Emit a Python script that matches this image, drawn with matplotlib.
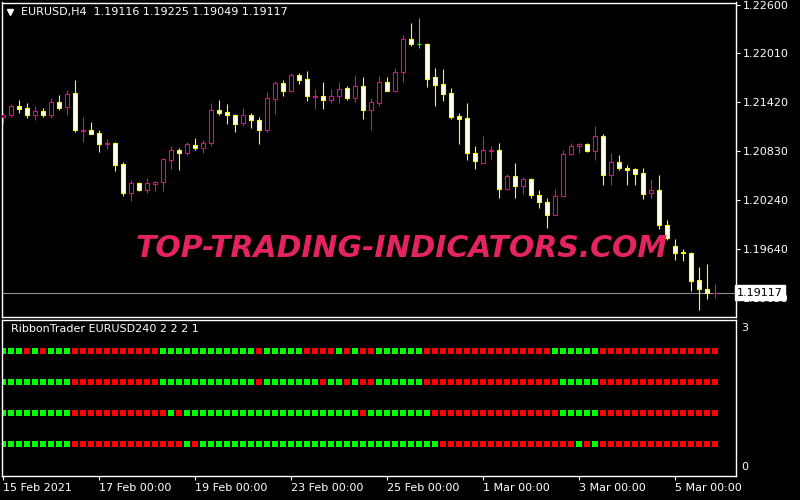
import matplotlib
matplotlib.use('Agg')
import matplotlib.pyplot as plt
import numpy as np

# EURUSD H4 candles (oldest -> newest)
opens = [1.2124, 1.2126, 1.2138, 1.2135, 1.2126, 1.2131, 1.2127, 1.2142, 1.2136, 1.2153,
         1.21075, 1.2108, 1.2105, 1.2092, 1.2093, 1.2067, 1.2032, 1.2044, 1.2036, 1.2043,
         1.2045, 1.2072, 1.2084, 1.2081, 1.2090, 1.2087, 1.2093, 1.2133, 1.2130, 1.2127,
         1.2117, 1.2126, 1.2120, 1.2108, 1.2146, 1.2165, 1.2155, 1.2175, 1.2170, 1.2148,
         1.2149, 1.2145, 1.2149, 1.2159, 1.2147, 1.2162, 1.2132, 1.2141, 1.2166, 1.2156,
         1.2178, 1.2219, 1.2212, 1.2213, 1.2173, 1.2164, 1.2153, 1.2125, 1.2123, 1.2081,
         1.2069, 1.2083, 1.2084, 1.2037, 1.2053, 1.2040, 1.2049, 1.2030, 1.2021, 1.2005,
         1.2028, 1.2079, 1.2089, 1.2091, 1.2083, 1.2101, 1.2054, 1.2070, 1.2062, 1.2061,
         1.2056, 1.2032, 1.2036, 1.1993, 1.1968, 1.1961, 1.1960, 1.1927, 1.1916, 1.19116]
highs = [1.2129, 1.2140, 1.2145, 1.2141, 1.2137, 1.2135, 1.2147, 1.2151, 1.2157, 1.2169,
         1.2124, 1.2118, 1.2108, 1.2097, 1.2094, 1.2070, 1.2048, 1.2045, 1.2050, 1.2047,
         1.2074, 1.2089, 1.2086, 1.2094, 1.2099, 1.2096, 1.2141, 1.2145, 1.2140, 1.2128,
         1.2135, 1.2129, 1.2124, 1.2154, 1.2168, 1.2169, 1.2177, 1.2177, 1.2180, 1.2158,
         1.2166, 1.2158, 1.2166, 1.2162, 1.2175, 1.2173, 1.2147, 1.2174, 1.2173, 1.2183,
         1.2223, 1.2238, 1.2244, 1.2214, 1.2183, 1.2182, 1.2159, 1.2129, 1.2141, 1.2089,
         1.2101, 1.2089, 1.2093, 1.2055, 1.2068, 1.2052, 1.2050, 1.2036, 1.2026, 1.2037,
         1.2084, 1.2093, 1.2093, 1.2093, 1.2113, 1.2104, 1.2081, 1.2078, 1.2066, 1.2062,
         1.2062, 1.2049, 1.2054, 1.1999, 1.1976, 1.1964, 1.1961, 1.1943, 1.1946, 1.19225]
lows = [1.2116, 1.2124, 1.2129, 1.2123, 1.2120, 1.2124, 1.2123, 1.2132, 1.2127, 1.2106,
        1.2094, 1.2103, 1.2082, 1.2085, 1.2059, 1.2029, 1.2023, 1.2034, 1.2032, 1.2035,
        1.2035, 1.2061, 1.2060, 1.2078, 1.2084, 1.2081, 1.2089, 1.2126, 1.2116, 1.2106,
        1.2113, 1.2111, 1.2091, 1.2106, 1.2128, 1.2150, 1.2154, 1.2164, 1.2144, 1.2134,
        1.2134, 1.2141, 1.2141, 1.2145, 1.2142, 1.2122, 1.2108, 1.2137, 1.2155, 1.2154,
        1.2166, 1.2210, 1.2208, 1.2160, 1.2137, 1.2144, 1.2122, 1.2092, 1.2072, 1.2061,
        1.2069, 1.2073, 1.2026, 1.2036, 1.2026, 1.2031, 1.2026, 1.2014, 1.1990, 1.2005,
        1.2028, 1.2078, 1.2081, 1.2082, 1.2072, 1.2042, 1.2042, 1.2060, 1.2042, 1.2042,
        1.2025, 1.2026, 1.1989, 1.1975, 1.1951, 1.1950, 1.1913, 1.1891, 1.1904, 1.19049]
closes = [1.2127, 1.2138, 1.2134, 1.2126, 1.2131, 1.2126, 1.2142, 1.2135, 1.2152, 1.2108,
          1.21083, 1.2104, 1.2092, 1.2093, 1.2066, 1.2032, 1.2044, 1.2036, 1.2044, 1.2045,
          1.2073, 1.2084, 1.2081, 1.2091, 1.2087, 1.2093, 1.2133, 1.2129, 1.2126, 1.2116,
          1.2127, 1.2120, 1.2108, 1.2147, 1.2165, 1.2155, 1.2175, 1.2169, 1.2149, 1.2149,
          1.2145, 1.2149, 1.2158, 1.2147, 1.2162, 1.2133, 1.2142, 1.2166, 1.2156, 1.2179,
          1.2219, 1.2212, 1.2212, 1.2170, 1.2163, 1.2152, 1.2124, 1.2122, 1.2080, 1.2071,
          1.2084, 1.2084, 1.2037, 1.2053, 1.2040, 1.2049, 1.2030, 1.2021, 1.2005, 1.2028,
          1.2079, 1.2089, 1.2091, 1.2083, 1.2101, 1.2054, 1.2070, 1.2062, 1.2060, 1.2055,
          1.2031, 1.2036, 1.1993, 1.1978, 1.1960, 1.1959, 1.1926, 1.1916, 1.1911, 1.19117]

price_ticks = [1.22600, 1.22010, 1.21420, 1.20830, 1.20240, 1.19640, 1.19050]
date_ticks = [0, 12, 24, 36, 48, 60, 72, 84]
date_labels = ['15 Feb 2021', '17 Feb 00:00', '19 Feb 00:00', '23 Feb 00:00',
               '25 Feb 00:00', '1 Mar 00:00', '3 Mar 00:00', '5 Mar 00:00']

# RibbonTrader rows, top to bottom (G = up, R = down)
ribbon1 = 'GGGRGRGGG' + 'R'*11 + 'G'*12 + 'R' + 'G'*5 + 'RRRR' + 'GRGRR' + 'G'*6 + 'R'*16 + 'G'*6 + 'R'*15
ribbon2 = 'G'*9 + 'R'*11 + 'G'*12 + 'R' + 'G'*7 + 'RGGRGRR' + 'G'*6 + 'R'*17 + 'G'*5 + 'R'*15
ribbon3 = 'G'*9 + 'R'*12 + 'GR' + 'G'*22 + 'R' + 'G'*8 + 'R'*16 + 'G'*5 + 'R'*15
ribbon4 = 'G'*9 + 'R'*14 + 'GR' + 'G'*30 + 'R'*17 + 'GRG' + 'R'*15
ribbons = [ribbon1, ribbon2, ribbon3, ribbon4]

BULL = '#c8197f'
BEAR_EDGE = '#ffff00'
BEAR_FILL = '#ffffff'
DOJI = '#00ff00'

fig = plt.figure(figsize=(8, 5), dpi=100, facecolor='black')
ax = fig.add_axes([0.0025, 0.366, 0.9175, 0.629], facecolor='black')
ax2 = fig.add_axes([0.0025, 0.048, 0.9175, 0.312], facecolor='black')

x = np.arange(len(opens))
o = np.array(opens)
c = np.array(closes)
h = np.array(highs)
l = np.array(lows)

up = c > o
dn = c < o
eq = c == o

# wicks
ax.vlines(x[up], l[up], h[up], color=BULL, lw=0.8, zorder=2)
ax.vlines(x[dn], l[dn], h[dn], color=BEAR_EDGE, lw=0.8, zorder=2)
ax.vlines(x[eq], l[eq], h[eq], color=DOJI, lw=0.8, zorder=2)

# bodies
ax.bar(x[up], c[up] - o[up], bottom=o[up], width=0.55, color='black',
       edgecolor=BULL, linewidth=0.8, zorder=3)
ax.bar(x[dn], o[dn] - c[dn], bottom=c[dn], width=0.55, color=BEAR_FILL,
       edgecolor=BEAR_EDGE, linewidth=0.8, zorder=3)
ax.hlines(o[eq], x[eq] - 0.3, x[eq] + 0.3, color=DOJI, lw=0.8, zorder=3)

# current price line
ax.axhline(closes[-1], color='#8c8c8c', lw=0.8, zorder=1)

ax.set_xlim(-0.125, 91.625)
ax.set_ylim(1.188206, 1.226266)
ax.yaxis.tick_right()
ax.set_yticks(price_ticks)
ax.set_yticklabels(['%.5f' % p for p in price_ticks])
ax.tick_params(axis='y', colors='white', labelsize=8, length=3, pad=2, width=0.8)
ax.tick_params(axis='x', bottom=False, labelbottom=False)
for s in ax.spines.values():
    s.set_color('white')
    s.set_linewidth(1)

ax.text(1.0015, closes[-1], '%.5f' % closes[-1], transform=ax.get_yaxis_transform(),
        color='black', fontsize=8, va='center', ha='left', clip_on=False, zorder=5,
        bbox=dict(boxstyle='square,pad=0.2', fc='white', ec='white'))

ax.plot([0.0109], [0.97], marker='v', color='white', markersize=5,
        transform=ax.transAxes, clip_on=False)
ax.text(0.0259, 0.97, 'EURUSD,H4  1.19116 1.19225 1.19049 1.19117', transform=ax.transAxes,
        color='white', fontsize=8, va='center', ha='left')

fig.text(0.502, 0.503, 'TOP-TRADING-INDICATORS.COM', color='#e3245f', fontsize=21.5,
         fontweight='bold', fontstyle='italic', ha='center', va='center')

# ribbon panel
levels = [4, 3, 2, 1]
for row, lev in zip(ribbons, levels):
    cols = ['#00ff00' if ch == 'G' else '#ff0000' for ch in row]
    ax2.bar(np.arange(len(row)), 0.19, bottom=lev - 0.095, width=0.75, color=cols, linewidth=0)

ax2.set_xlim(-0.125, 91.625)
ax2.set_ylim(-0.045, 5.0)
ax2.set_yticks([])
ax2.set_xticks(date_ticks)
ax2.set_xticklabels(date_labels, ha='left')
ax2.tick_params(axis='x', colors='white', labelsize=8, length=3, pad=2, width=0.8)
for s in ax2.spines.values():
    s.set_color('white')
    s.set_linewidth(1)

ax2.text(0.012, 0.94, 'RibbonTrader EURUSD240 2 2 2 1', transform=ax2.transAxes,
         color='white', fontsize=8, va='center', ha='left')
ax2.text(1.007, 0.95, '3', transform=ax2.transAxes, color='white', fontsize=8, va='center')
ax2.text(1.007, 0.06, '0', transform=ax2.transAxes, color='white', fontsize=8, va='center')

fig.savefig('out.png', dpi=100, facecolor='black')
